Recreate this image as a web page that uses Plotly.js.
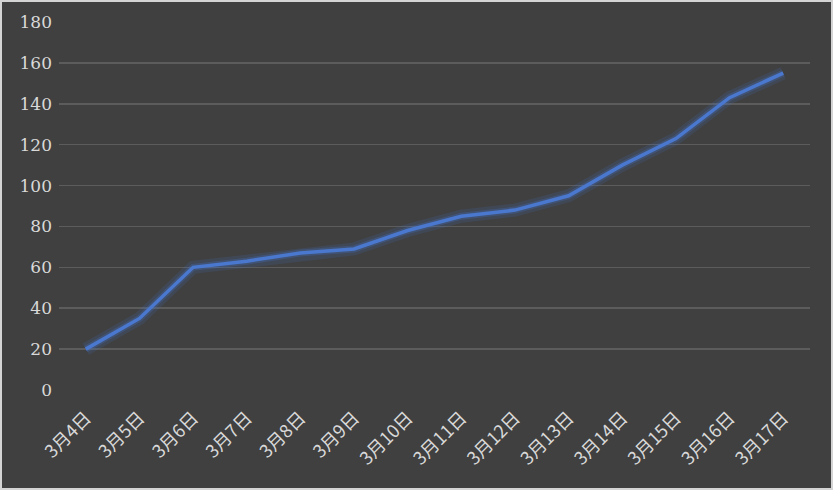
<!DOCTYPE html>
<html><head><meta charset="utf-8">
<script src="https://cdn.plot.ly/plotly-3.0.1.min.js"></script>
<style>
html,body{margin:0;padding:0;background:#d9d9d9;}
#wrap{width:833px;height:490px;box-sizing:border-box;border:2px solid #d4d4d4;background:#404040;}
#chart{width:829px;height:486px;}
</style></head>
<body><div id="wrap"><div id="chart"></div></div>
<script>
const categories = ["3月4日","3月5日","3月6日","3月7日","3月8日","3月9日","3月10日","3月11日","3月12日","3月13日","3月14日","3月15日","3月16日","3月17日"];
const values = [20, 35, 60, 63, 67, 69, 78, 85, 88, 95, 110, 123, 143, 155];
const yTicks = [0,20,40,60,80,100,120,140,160,180];

const glow1 = {x: categories, y: values, type: 'scatter', mode: 'lines',
  line: {color: 'rgba(68,114,196,0.16)', width: 13}, hoverinfo: 'skip', showlegend: false};
const glow2 = {x: categories, y: values, type: 'scatter', mode: 'lines',
  line: {color: 'rgba(68,114,196,0.28)', width: 7}, hoverinfo: 'skip', showlegend: false};
const main = {x: categories, y: values, type: 'scatter', mode: 'lines',
  line: {color: '#4A78CF', width: 3.5}, showlegend: false};

const layout = {
  width: 829, height: 486,
  paper_bgcolor: '#404040', plot_bgcolor: '#404040',
  margin: {l: 57, r: 21, t: 20, b: 98},
  font: {family: '"Noto Sans CJK SC", "Liberation Sans", sans-serif', color: '#d9d9d9', size: 18},
  xaxis: {type: 'category', tickangle: -45, showgrid: false, zeroline: false, showline: false,
    ticks: '', tickfont: {size: 18, color: '#d9d9d9'}, range: [-0.5, 13.5], ticklabelstandoff: 13},
  yaxis: {range: [0, 180], tickvals: yTicks, showgrid: true, gridcolor: '#5c5c5c', gridwidth: 1.5,
    zeroline: false, showline: false, ticks: '',
    tickfont: {family: '"DejaVu Serif", serif', size: 17, color: '#d9d9d9'}, ticklabelstandoff: 6}
};
Plotly.newPlot('chart', [glow1, glow2, main], layout, {displayModeBar: false, staticPlot: true});
</script></body></html>
